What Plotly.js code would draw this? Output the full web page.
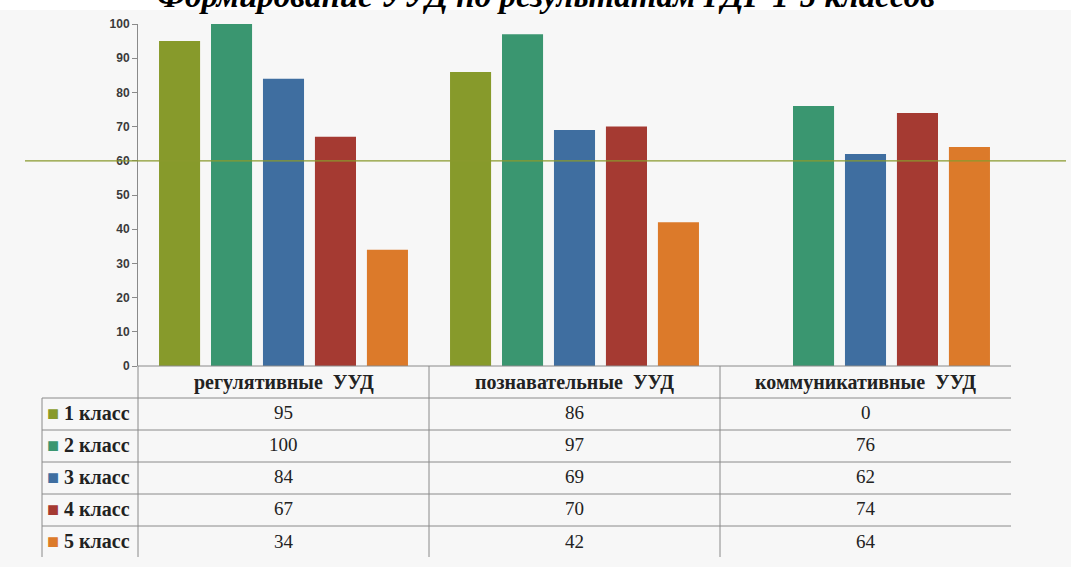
<!DOCTYPE html>
<html>
<head>
<meta charset="utf-8">
<script src="https://cdn.plot.ly/plotly-3.0.1.min.js"></script>
<style>html,body{margin:0;padding:0;background:#f7f7f7;}#chart{width:1071px;height:567px;}</style>
</head>
<body>
<div id="chart"></div>
<script>
const titleText = "Формирование УУД по результатам ГДР 1-5 классов";
const categories = ["регулятивные\u00a0 УУД", "познавательные\u00a0 УУД", "коммуникативные\u00a0 УУД"];
const classNames = ["1 класс", "2 класс", "3 класс", "4 класс", "5 класс"];
const class1 = [95, 86, 0];
const class2 = [100, 97, 76];
const class3 = [84, 69, 62];
const class4 = [67, 70, 74];
const class5 = [34, 42, 64];
const threshold = 60;
const yTicks = [0, 10, 20, 30, 40, 50, 60, 70, 80, 90, 100];

const series = [class1, class2, class3, class4, class5];
const colors = ["#879a2b", "#3a9670", "#3f6ea0", "#a53a32", "#dc7a2a"];

// layout geometry (pixels)
const W = 1071, H = 567;
const L = 138, R = 1011, T = 24, B = 366;
const pw = R - L, ph = B - T;
const px = x => (x - L) / pw;
const py = y => (B - y) / ph;

const traces = series.map((vals, i) => ({
  type: "bar",
  x: categories,
  y: vals,
  name: classNames[i],
  marker: {color: colors[i]},
  hoverinfo: "skip"
}));

const lineColor = "#8a8a8a";
const shapes = [];
// white title band
shapes.push({type: "rect", xref: "paper", yref: "paper", x0: px(0), x1: px(W), y0: py(10), y1: py(0),
  fillcolor: "#ffffff", line: {width: 0}, layer: "below"});
// threshold line
shapes.push({type: "line", xref: "paper", yref: "y", x0: px(25), x1: px(1066), y0: threshold, y1: threshold,
  line: {color: "#8a9a2e", width: 1.3}});
// table header line (x-axis)
shapes.push({type: "line", xref: "paper", yref: "paper", x0: 0, x1: px(R), y0: 0, y1: 0, line: {color: lineColor, width: 1}});
// row lines
const rowTop = 398, rowH = 32, tableBottom = 557;
for (let r = 0; r < classNames.length; r++) {
  const y = rowTop + r * rowH;
  shapes.push({type: "line", xref: "paper", yref: "paper", x0: px(42), x1: px(R), y0: py(y), y1: py(y), line: {color: lineColor, width: 1}});
}
// vertical lines
shapes.push({type: "line", xref: "paper", yref: "paper", x0: px(42), x1: px(42), y0: py(rowTop), y1: py(tableBottom), line: {color: lineColor, width: 1}});
for (let c = 0; c < categories.length; c++) {
  const x = L + c * pw / categories.length;
  shapes.push({type: "line", xref: "paper", yref: "paper", x0: px(x), x1: px(x), y0: 0, y1: py(tableBottom), line: {color: lineColor, width: 1}});
}

const annotations = [];
annotations.push({text: "<b><i>" + titleText + "</i></b>", xref: "paper", yref: "paper", x: px(546), y: py(-4),
  xanchor: "center", yanchor: "middle", showarrow: false, font: {family: "Liberation Serif", size: 33, color: "#000"}});
// header
categories.forEach((c, i) => {
  annotations.push({text: "<b>" + c + "</b>", xref: "x", yref: "paper", x: c, y: py(382), xanchor: "center", yanchor: "middle",
    showarrow: false, font: {family: "Liberation Serif", size: 20, color: "#222"}});
});
// rows
classNames.forEach((n, r) => {
  const yc = rowTop + r * rowH + rowH / 2 - 1;
  annotations.push({text: '<span style="color:' + colors[r] + '">■</span> <b>' + n + '</b>', xref: "paper", yref: "paper",
    x: px(45), y: py(yc), xanchor: "left", yanchor: "middle", showarrow: false,
    font: {family: "Liberation Serif", size: 20, color: "#222"}});
  series[r].forEach((v, i) => {
    annotations.push({text: String(v), xref: "x", yref: "paper", x: categories[i], y: py(yc), xanchor: "center", yanchor: "middle",
      showarrow: false, font: {family: "Liberation Serif", size: 19, color: "#222"}});
  });
});

const layout = {
  width: W, height: H,
  margin: {l: L, r: W - R, t: T, b: H - B, pad: 0},
  paper_bgcolor: "#f7f7f7",
  plot_bgcolor: "#f7f7f7",
  showlegend: false,
  barmode: "group",
  bargap: 0.107,
  bargroupgap: 0.21,
  xaxis: {showticklabels: false, showline: false, showgrid: false, zeroline: false, ticks: "", fixedrange: true},
  yaxis: {range: [0, 100], tickvals: yTicks, ticktext: yTicks.map(String), showgrid: false, zeroline: false,
    showline: true, linecolor: lineColor, linewidth: 1, ticks: "outside", ticklen: 5, tickcolor: lineColor,
    tickfont: {family: "Liberation Sans", size: 12, color: "#3a3a3a", weight: "bold"}, fixedrange: true},
  shapes: shapes,
  annotations: annotations
};

Plotly.newPlot("chart", traces, layout, {displayModeBar: false, staticPlot: true});
</script>
</body>
</html>
